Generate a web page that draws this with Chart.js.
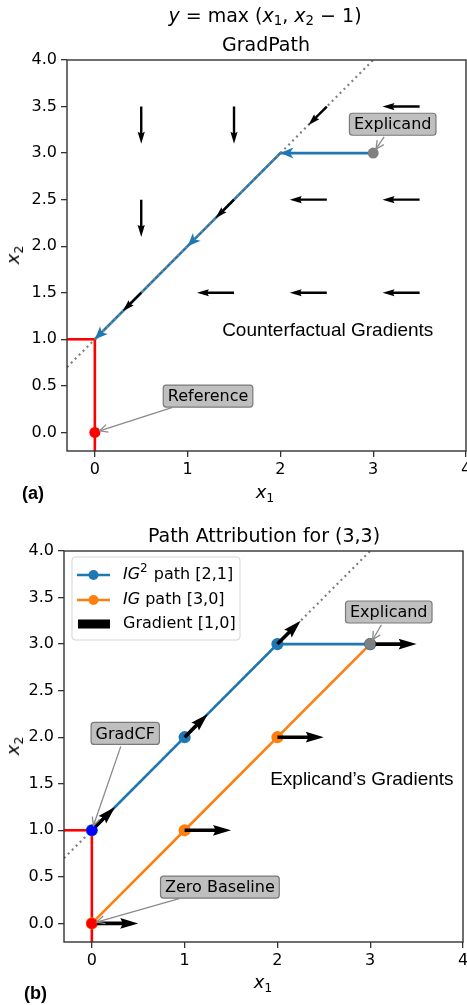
<!DOCTYPE html>
<html>
<head>
<meta charset="utf-8">
<script src="https://cdn.jsdelivr.net/npm/chart.js@4"></script>
<style>
  html, body { margin: 0; padding: 0; background: #fff; width: 467px; height: 1005px; overflow: hidden; }
  canvas { position: absolute; left: 0; }
  #c1 { top: 0; }
  #c2 { top: 505px; }
  .t { position: absolute; white-space: nowrap; color: #000; font-family: "DejaVu Sans", sans-serif;
       transform: translate(-50%, -50%); line-height: 1; }
  .t sub { font-size: 70%; vertical-align: -0.3em; line-height: 0; }
  .tag { position: absolute; font-family: "Liberation Sans", Arial, sans-serif; font-weight: bold;
         font-size: 18px; transform: translateY(-50%); line-height: 1; }
  .rot { transform: translate(-50%, -50%) rotate(-90deg); }
</style>
</head>
<body>
<canvas id="c1" width="480" height="505"></canvas>
<canvas id="c2" width="480" height="500"></canvas>

<div class="t" style="left:265px;top:15px;font-size:19px"><i>y</i> = max (<i>x</i><sub>1</sub>, <i>x</i><sub>2</sub> − 1)</div>
<div class="t" style="left:266px;top:44px;font-size:19px">GradPath</div>
<div class="t" style="left:265px;top:492px;font-size:18px"><i>x</i><sub>1</sub></div>
<div class="t rot" style="left:13px;top:255px;font-size:18px"><i>x</i><sub>2</sub></div>
<div class="tag" style="left:22px;top:493px">(a)</div>

<div class="t" style="left:264px;top:535px;font-size:19px">Path Attribution for (3,3)</div>
<div class="t" style="left:263px;top:982px;font-size:18px"><i>x</i><sub>1</sub></div>
<div class="t rot" style="left:13px;top:746px;font-size:18px"><i>x</i><sub>2</sub></div>
<div class="tag" style="left:24px;top:993px">(b)</div>

<script>
// axes
const xRange = [-0.3, 4];
const yRange = [-0.2, 4];
const xTicks = [0, 1, 2, 3, 4];
const yTicks = [0, 0.5, 1, 1.5, 2, 2.5, 3, 3.5, 4];

// boundary x2 = x1 + 1 (dotted) and the red guides
const boundaryX = [-0.3, 3];
const boundaryY = [0.7, 4];
const redHX = [-0.3, 0];
const redHY = [1, 1];
const redVX = [0, 0];
const redVY = [1, -0.2];

// (a) GradPath
const gradPathX = [3, 2, 1, 0];
const gradPathY = [3, 3, 2, 1];
const topPointX = [0, 3];
const topPointY = [0, 3];
const topPointColor = ["#ff0000", "#808080"];
const cfGradX = [0.5, 1.5, 2.5, 3.5, 0.5, 1.5, 2.5, 3.5, 0.5, 1.5, 2.5, 3.5];
const cfGradY = [3.5, 3.5, 3.5, 3.5, 2.5, 2.5, 2.5, 2.5, 1.5, 1.5, 1.5, 1.5];
const cfGradU = [0, 0, -0.5, -1, 0, -0.5, -1, -1, -0.5, -1, -1, -1];
const cfGradV = [-1, -1, -0.5, 0, -1, -0.5, 0, 0, -0.5, 0, 0, 0];
const topNoteText = ["Explicand", "Reference"];
const topNoteX = [3.21, 1.22];
const topNoteY = [3.31, 0.39];
const topNoteTX = [3, 0];
const topNoteTY = [3, 0];

// (b) Path attribution
const ig2PathX = [0, 1, 2, 3];
const ig2PathY = [1, 2, 3, 3];
const igPathX = [0, 1, 2, 3];
const igPathY = [0, 1, 2, 3];
const botPointX = [0, 0, 3];
const botPointY = [0, 1, 3];
const botPointColor = ["#ff0000", "#0000ff", "#808080"];
const exGradX = [0, 1, 2, 3, 0, 1, 2];
const exGradY = [0, 1, 2, 3, 1, 2, 3];
const exGradU = [1, 1, 1, 1, 0.5, 0.5, 0.5];
const exGradV = [0, 0, 0, 0, 0.5, 0.5, 0.5];
const botNoteText = ["Explicand", "GradCF", "Zero Baseline"];
const botNoteX = [3.2, 0.36, 1.38];
const botNoteY = [3.345, 2.04, 0.39];
const botNoteTX = [3, 0, 0];
const botNoteTY = [3, 1, 0];
const legendLabels = [
  [["IG", "i"], ["2", "sup"], [" path [2,1]", ""]],
  [["IG", "i"], [" path [3,0]", ""]],
  [["Gradient [1,0]", ""]],
];

const BLUE = "#1f77b4";
const ORANGE = "#ff7f0e";
const FONT = '"DejaVu Sans"';
const AXIS = "#333";

const pts = (xs, ys) => xs.map((x, i) => ({ x, y: ys[i] }));

const lineSet = (xs, ys, color, extra = {}) => ({
  data: pts(xs, ys),
  showLine: true,
  borderColor: color,
  backgroundColor: color,
  borderWidth: 2.6,
  pointRadius: 0,
  tension: 0,
  ...extra,
});

const scalesFor = (yWidth) => ({
  x: {
    type: "linear",
    min: xRange[0],
    max: xRange[1],
    border: { display: false },
    grid: { drawOnChartArea: false, drawTicks: true, tickLength: 6, color: AXIS, lineWidth: 1.3 },
    ticks: { font: { family: FONT, size: 16 }, color: "#000", padding: 3, maxRotation: 0, autoSkip: false,
             callback: (v) => String(v) },
    afterBuildTicks: (s) => { s.ticks = xTicks.map((v) => ({ value: v })); },
    afterFit: (s) => { s.height = 40; },
  },
  y: {
    type: "linear",
    min: yRange[0],
    max: yRange[1],
    border: { display: false },
    grid: { drawOnChartArea: false, drawTicks: true, tickLength: 6, color: AXIS, lineWidth: 1.3 },
    ticks: { font: { family: FONT, size: 16 }, color: "#000", padding: 4, autoSkip: false,
             callback: (v) => Number(v).toFixed(1) },
    afterBuildTicks: (s) => { s.ticks = yTicks.map((v) => ({ value: v })); },
    afterFit: (s) => { s.width = yWidth; },
  },
});

// quiver-style arrow (matplotlib proportions)
const quiver = (ctx, x0, y0, x1, y1, w) => {
  const dx = x1 - x0, dy = y1 - y0, L = Math.hypot(dx, dy);
  const ux = dx / L, uy = dy / L, nx = -uy, ny = ux;
  const P = (a, b) => [x0 + ux * a + nx * b, y0 + uy * a + ny * b];
  const hl = 5 * w, hal = 4.5 * w, hw = 1.5 * w, sw = 0.5 * w;
  const poly = [P(0, sw), P(L - hal, sw), P(L - hl, hw), P(L, 0), P(L - hl, -hw), P(L - hal, -sw), P(0, -sw)];
  ctx.beginPath();
  poly.forEach((p, i) => (i ? ctx.lineTo(p[0], p[1]) : ctx.moveTo(p[0], p[1])));
  ctx.closePath();
  ctx.fill();
};

const headOnly = (ctx, x0, y0, x1, y1, hl, hw, hal) => {
  const dx = x1 - x0, dy = y1 - y0, L = Math.hypot(dx, dy);
  const ux = dx / L, uy = dy / L, nx = -uy, ny = ux;
  const P = (a, b) => [x1 + ux * a + nx * b, y1 + uy * a + ny * b];
  const poly = [P(0, 0), P(-hl, hw), P(-hal, 0), P(-hl, -hw)];
  ctx.beginPath();
  poly.forEach((p, i) => (i ? ctx.lineTo(p[0], p[1]) : ctx.moveTo(p[0], p[1])));
  ctx.closePath();
  ctx.fill();
};

const drawNote = (ctx, chart, text, bx, by, tx, ty) => {
  const sx = chart.scales.x, sy = chart.scales.y;
  const cx = sx.getPixelForValue(bx), cy = sy.getPixelForValue(by);
  const ex = sx.getPixelForValue(tx), ey = sy.getPixelForValue(ty);
  ctx.font = `16px ${FONT}`;
  const bw = ctx.measureText(text).width + 9, bh = 22;
  const dx = ex - cx, dy = ey - cy, L = Math.hypot(dx, dy);
  const ux = dx / L, uy = dy / L;
  const t0 = Math.min(dx ? Math.abs(bw / 2 / dx) : 1e9, dy ? Math.abs(bh / 2 / dy) : 1e9) * L + 2;
  const sx0 = cx + ux * t0, sy0 = cy + uy * t0;
  const tx1 = ex - ux * 5, ty1 = ey - uy * 5;
  ctx.save();
  ctx.strokeStyle = "#8a8a8a";
  ctx.lineWidth = 1.3;
  ctx.beginPath();
  ctx.moveTo(sx0, sy0);
  ctx.lineTo(tx1, ty1);
  ctx.stroke();
  const nx = -uy, ny = ux;
  ctx.beginPath();
  ctx.moveTo(tx1 - ux * 8 + nx * 4, ty1 - uy * 8 + ny * 4);
  ctx.lineTo(tx1, ty1);
  ctx.lineTo(tx1 - ux * 8 - nx * 4, ty1 - uy * 8 - ny * 4);
  ctx.stroke();
  ctx.fillStyle = "#bfbfbf";
  ctx.strokeStyle = "#7a7a7a";
  ctx.lineWidth = 1.2;
  ctx.beginPath();
  ctx.roundRect(cx - bw / 2, cy - bh / 2, bw, bh, 3);
  ctx.fill();
  ctx.stroke();
  ctx.fillStyle = "#000";
  ctx.textAlign = "center";
  ctx.textBaseline = "middle";
  ctx.fillText(text, cx, cy + 1);
  ctx.restore();
};

const decor = (cfg) => ({
  id: "decor",
  beforeDatasetDraw(chart, args) {
    if (args.index !== 0) return;
    const ctx = chart.ctx, sx = chart.scales.x, sy = chart.scales.y;
    ctx.save();
    if (cfg.heads) {
      ctx.fillStyle = BLUE;
      for (let i = 1; i < cfg.heads[0].length; i++) {
        headOnly(ctx,
          sx.getPixelForValue(cfg.heads[0][i - 1]), sy.getPixelForValue(cfg.heads[1][i - 1]),
          sx.getPixelForValue(cfg.heads[0][i]), sy.getPixelForValue(cfg.heads[1][i]), 13, 5.5, 9.5);
      }
    }
    ctx.fillStyle = "#000";
    const q = cfg.quiver;
    q.x.forEach((x, i) => {
      const x0 = sx.getPixelForValue(x), y0 = sy.getPixelForValue(q.y[i]);
      const x1 = sx.getPixelForValue(x + q.u[i] * q.scale), y1 = sy.getPixelForValue(q.y[i] + q.v[i] * q.scale);
      quiver(ctx, x0, y0, x1, y1, q.width);
    });
    ctx.restore();
  },
  afterDatasetsDraw(chart) {
    const ctx = chart.ctx, a = chart.chartArea, sx = chart.scales.x, sy = chart.scales.y;
    ctx.save();
    ctx.strokeStyle = AXIS;
    ctx.lineWidth = 1.4;
    ctx.strokeRect(a.left, a.top, a.right - a.left, a.bottom - a.top);
    // free text
    ctx.fillStyle = "#000";
    ctx.font = '19px "Liberation Sans", Arial, sans-serif';
    ctx.textAlign = "center";
    ctx.textBaseline = "middle";
    ctx.fillText(cfg.caption[0], sx.getPixelForValue(cfg.caption[1]), sy.getPixelForValue(cfg.caption[2]));
    ctx.restore();
    const n = cfg.notes;
    n.text.forEach((t, i) => drawNote(ctx, chart, t, n.x[i], n.y[i], n.tx[i], n.ty[i]));
    if (cfg.legend) drawLegend(ctx, a);
  },
});

const drawLegend = (ctx, a) => {
  const left = a.left + 8, top = a.top + 6, w = 168, h = 83;
  const rowY = [18, 43, 67];
  ctx.save();
  ctx.fillStyle = "rgba(255,255,255,0.85)";
  ctx.strokeStyle = "#d5d5d5";
  ctx.lineWidth = 1;
  ctx.beginPath();
  ctx.roundRect(left, top, w, h, 3);
  ctx.fill();
  ctx.stroke();
  const colors = [BLUE, ORANGE, "#000"];
  legendLabels.forEach((parts, i) => {
    const y = top + rowY[i];
    ctx.fillStyle = colors[i];
    ctx.strokeStyle = colors[i];
    if (i < 2) {
      ctx.lineWidth = 2.6;
      ctx.beginPath();
      ctx.moveTo(left + 5, y);
      ctx.lineTo(left + 38, y);
      ctx.stroke();
      ctx.beginPath();
      ctx.arc(left + 21.5, y, 5, 0, Math.PI * 2);
      ctx.fill();
    } else {
      ctx.fillRect(left + 6, y - 4.5, 32, 9);
    }
    let x = left + 51;
    ctx.fillStyle = "#000";
    ctx.textBaseline = "middle";
    ctx.textAlign = "left";
    parts.forEach(([s, st]) => {
      if (st === "i") ctx.font = `italic 16px ${FONT}`;
      else if (st === "sup") ctx.font = `12px ${FONT}`;
      else ctx.font = `16px ${FONT}`;
      ctx.fillText(s, x, st === "sup" ? y - 6 : y);
      x += ctx.measureText(s).width + (st === "sup" ? 1 : 0);
    });
  });
  ctx.restore();
};

const topChart = new Chart(document.getElementById("c1"), {
  type: "scatter",
  data: {
    datasets: [
      { data: pts(topPointX, topPointY), backgroundColor: topPointColor, borderWidth: 0, pointRadius: 5.5, showLine: false },
      lineSet(boundaryX, boundaryY, "#808080", { borderDash: [2, 3.6], borderWidth: 2.2 }),
      lineSet(redHX, redHY, "#ff0000"),
      lineSet(redVX, redVY, "#ff0000"),
      lineSet(gradPathX, gradPathY, BLUE),
    ],
  },
  options: {
    responsive: false,
    animation: false,
    events: [],
    layout: { padding: { left: 27, right: 14, top: 60, bottom: 14 } },
    plugins: { legend: { display: false }, tooltip: { enabled: false } },
    scales: scalesFor(40),
  },
  plugins: [decor({
    heads: [gradPathX, gradPathY],
    quiver: { x: cfGradX, y: cfGradY, u: cfGradU, v: cfGradV, scale: 0.4, width: 2.4 },
    caption: ["Counterfactual Gradients", 2.51, 1.09],
    notes: { text: topNoteText, x: topNoteX, y: topNoteY, tx: topNoteTX, ty: topNoteTY },
  })],
});

const botChart = new Chart(document.getElementById("c2"), {
  type: "scatter",
  data: {
    datasets: [
      { data: pts(botPointX, botPointY), backgroundColor: botPointColor, borderWidth: 0, pointRadius: 5.5, showLine: false },
      lineSet(ig2PathX, ig2PathY, BLUE, { pointRadius: 4.8 }),
      lineSet(igPathX, igPathY, ORANGE, { pointRadius: 4.8 }),
      lineSet(redHX, redHY, "#ff0000"),
      lineSet(redVX, redVY, "#ff0000"),
      lineSet(boundaryX, boundaryY, "#808080", { borderDash: [2, 3.6], borderWidth: 2.2 }),
    ],
  },
  options: {
    responsive: false,
    animation: false,
    events: [],
    layout: { padding: { left: 24, right: 17, top: 46, bottom: 23 } },
    plugins: { legend: { display: false }, tooltip: { enabled: false } },
    scales: scalesFor(40),
  },
  plugins: [decor({
    quiver: { x: exGradX, y: exGradY, u: exGradU, v: exGradV, scale: 0.5, width: 3.6 },
    caption: ["Explicand\u2019s Gradients", 2.91, 1.54],
    notes: { text: botNoteText, x: botNoteX, y: botNoteY, tx: botNoteTX, ty: botNoteTY },
    legend: true,
  })],
});
</script>
</body>
</html>
